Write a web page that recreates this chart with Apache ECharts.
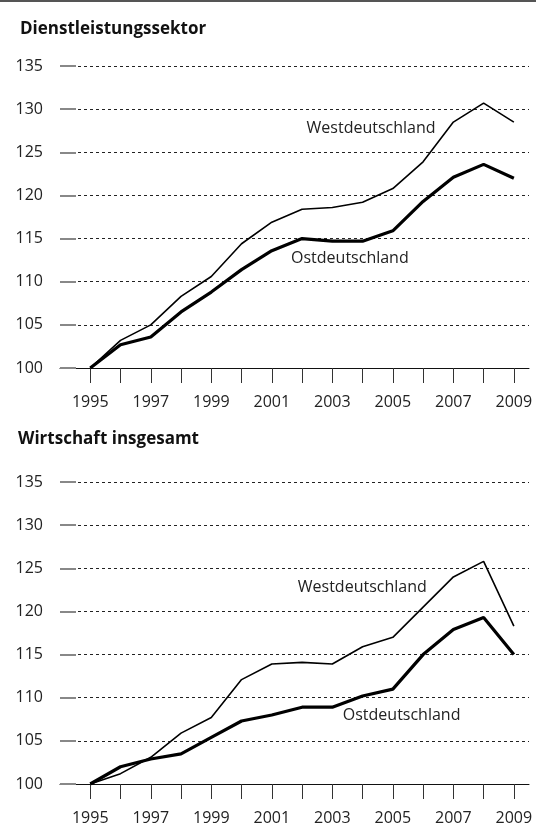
<!DOCTYPE html>
<html>
<head>
<meta charset="utf-8">
<script src="https://cdn.jsdelivr.net/npm/echarts@6/dist/echarts.min.js"></script>
<style>
  html, body { margin: 0; padding: 0; background: #fff; }
  #chart { width: 536px; height: 826px; }
</style>
</head>
<body>
<div id="chart"></div>
<script>
// Jahre (Index 1995 = 100)
var years = [1995, 1996, 1997, 1998, 1999, 2000, 2001, 2002, 2003, 2004, 2005, 2006, 2007, 2008, 2009];
var yearLabels = [1995, 1997, 1999, 2001, 2003, 2005, 2007, 2009];
var yTicks = [100, 105, 110, 115, 120, 125, 130, 135];

// Dienstleistungssektor
var dienstWest = [100, 103.2, 105.0, 108.3, 110.6, 114.4, 116.9, 118.4, 118.6, 119.2, 120.8, 123.9, 128.5, 130.7, 128.5];
var dienstOst  = [100, 102.7, 103.6, 106.5, 108.8, 111.4, 113.6, 115.0, 114.7, 114.7, 115.9, 119.3, 122.1, 123.6, 122.0];

// Wirtschaft insgesamt
var gesamtWest = [100, 101.2, 103.1, 105.9, 107.7, 112.1, 113.9, 114.1, 113.9, 115.9, 117.0, 120.5, 124.0, 125.8, 118.3];
var gesamtOst  = [100, 102.0, 102.9, 103.5, 105.4, 107.3, 108.0, 108.9, 108.9, 110.2, 111.0, 115.0, 117.9, 119.3, 115.0];

var titles = ['Dienstleistungssektor', 'Wirtschaft insgesamt'];
var nameWest = 'Westdeutschland';
var nameOst = 'Ostdeutschland';

var FONT = '"Open Sans", sans-serif';
var chart = echarts.init(document.getElementById('chart'));

function pairs(vals) {
  return years.map(function (y, i) { return [y, vals[i]]; });
}

function xAxisFor(idx) {
  return {
    type: 'value', gridIndex: idx, min: 1994, max: 2009.5,
    axisLine: { show: true, onZero: false, lineStyle: { color: '#111', width: 1 } },
    axisTick: { show: true, length: 15, customValues: years, lineStyle: { color: '#333', width: 1 } },
    axisLabel: {
      customValues: yearLabels, margin: 26, color: '#222', fontFamily: FONT, fontSize: 16,
      formatter: function (v) { return String(v); }
    },
    splitLine: { show: false }
  };
}

function yAxisFor(idx) {
  return {
    type: 'value', gridIndex: idx, min: 100, max: 135, interval: 5,
    axisLine: { show: false },
    axisTick: { show: true, inside: true, length: 16, lineStyle: { color: '#888', width: 2 } },
    axisLabel: { margin: 17, color: '#222', fontFamily: FONT, fontSize: 16 },
    splitLine: { show: true, lineStyle: { color: '#222', type: [3, 3], width: 1 } }
  };
}

function lineSeries(idx, vals, width, label, at) {
  return {
    type: 'line', xAxisIndex: idx, yAxisIndex: idx,
    data: pairs(vals), showSymbol: false, symbol: 'none',
    lineStyle: { color: '#000', width: width }, z: 3,
    markPoint: {
      symbol: 'circle', symbolSize: 1,
      itemStyle: { color: 'rgba(0,0,0,0)' },
      label: {
        show: true, position: 'inside', formatter: label,
        color: '#222', fontFamily: FONT, fontSize: 16
      },
      data: [{ coord: at }]
    }
  };
}

chart.setOption({
  animation: false,
  graphic: [{
    type: 'line', shape: { x1: 0, y1: 1, x2: 536, y2: 1 },
    style: { stroke: '#555', lineWidth: 2 }
  }],
  title: [
    { text: titles[0], left: 15, top: 16, textStyle: { fontFamily: FONT, fontSize: 17, fontWeight: 'bold', color: '#111' } },
    { text: titles[1], left: 13, top: 426, textStyle: { fontFamily: FONT, fontSize: 17, fontWeight: 'bold', color: '#111' } }
  ],
  grid: [
    { left: 60, top: 66, width: 469, height: 302 },
    { left: 60, top: 482, width: 469, height: 302 }
  ],
  xAxis: [xAxisFor(0), xAxisFor(1)],
  yAxis: [yAxisFor(0), yAxisFor(1)],
  series: [
    lineSeries(0, dienstWest, 1.6, nameWest, [2004.28, 127.8]),
    lineSeries(0, dienstOst, 3.2, nameOst, [2003.58, 112.7]),
    lineSeries(1, gesamtWest, 1.6, nameWest, [2003.99, 122.75]),
    lineSeries(1, gesamtOst, 3.2, nameOst, [2005.29, 107.9])
  ]
});
</script>
</body>
</html>
